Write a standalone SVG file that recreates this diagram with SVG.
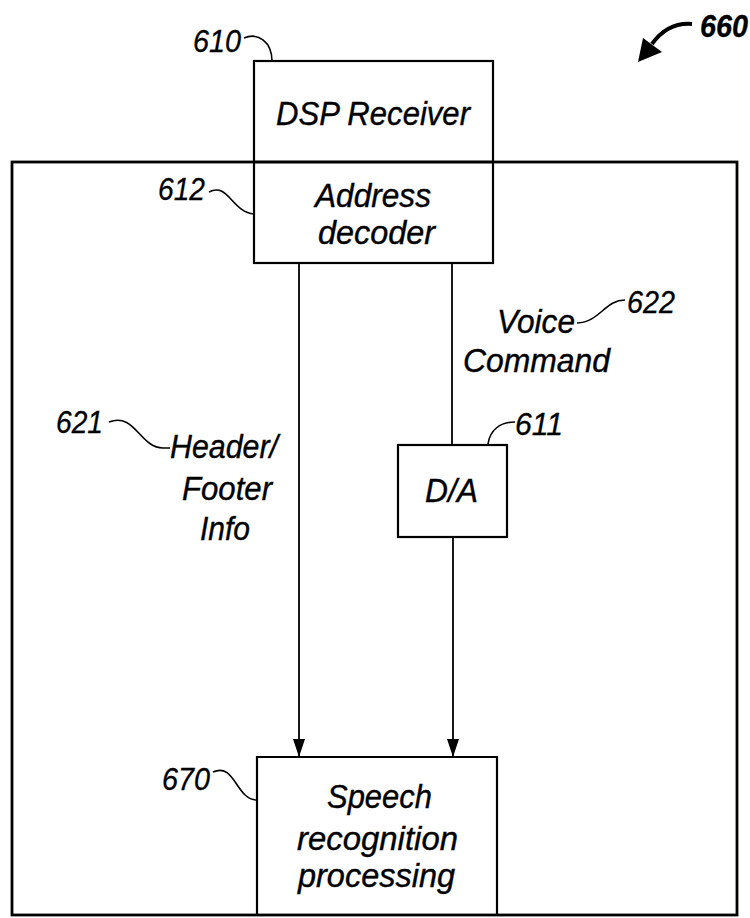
<svg xmlns="http://www.w3.org/2000/svg" width="750" height="918" viewBox="0 0 750 918">
<style>
.box{fill:none;stroke:#000;stroke-width:2.2}
.frame{fill:none;stroke:#000;stroke-width:2.8}
.ln{fill:none;stroke:#000;stroke-width:1.8}
.ld{fill:none;stroke:#000;stroke-width:1.6}
.t{font-family:"Liberation Sans",Arial,sans-serif;font-style:italic;font-size:34px;fill:#000;stroke:#000;stroke-width:0.4}
.n{font-family:"Liberation Sans",Arial,sans-serif;font-style:italic;font-size:31px;fill:#000;stroke:#000;stroke-width:0.3}
</style>
<defs>
<marker id="ah" markerWidth="18" markerHeight="12" refX="18" refY="6" orient="auto" markerUnits="userSpaceOnUse" viewBox="0 0 18 12">
<path d="M0,0 L18,6 L0,12 Z" fill="#000"/>
</marker>
</defs>
<g id="system-660">
<rect class="frame" x="12" y="162" width="725" height="753"/>
<text class="n" x="700" y="37" font-weight="bold" textLength="48" lengthAdjust="spacingAndGlyphs">660</text>
<path d="M692,24 Q668,22 652,44" fill="none" stroke="#000" stroke-width="4"/>
<polygon points="638,62 643,38 662,52" fill="#000"/>
</g>
<g id="node-610">
<rect class="box" x="254" y="61" width="239" height="101"/>
<text class="t" x="276" y="125" textLength="194" lengthAdjust="spacingAndGlyphs">DSP Receiver</text>
<text class="n" x="193" y="52" textLength="48" lengthAdjust="spacingAndGlyphs">610</text>
<path class="ld" d="M244,38 C258,32 272,42 272,61"/>
</g>
<g id="node-612">
<rect class="box" x="254" y="162" width="239" height="101"/>
<text class="t" x="315" y="207" textLength="116" lengthAdjust="spacingAndGlyphs">Address</text>
<text class="t" x="318" y="244" textLength="117" lengthAdjust="spacingAndGlyphs">decoder</text>
<text class="n" x="158" y="200" textLength="47" lengthAdjust="spacingAndGlyphs">612</text>
<path class="ld" d="M209,192 C228,182 232,212 254,214"/>
</g>
<g id="node-611">
<rect class="box" x="398" y="445" width="109" height="92"/>
<text class="t" x="425" y="502" textLength="53" lengthAdjust="spacingAndGlyphs">D/A</text>
<text class="n" x="515" y="435" textLength="48" lengthAdjust="spacingAndGlyphs">611</text>
<path class="ld" d="M488,444 C490,430 500,422 515,422"/>
</g>
<g id="node-670">
<path class="box" d="M257,915 L257,757 L497,757 L497,915"/>
<text class="t" x="327" y="808" textLength="105" lengthAdjust="spacingAndGlyphs">Speech</text>
<text class="t" x="297" y="850" textLength="161" lengthAdjust="spacingAndGlyphs">recognition</text>
<text class="t" x="298" y="887" textLength="157" lengthAdjust="spacingAndGlyphs">processing</text>
<text class="n" x="162" y="790" textLength="48" lengthAdjust="spacingAndGlyphs">670</text>
<path class="ld" d="M213,772 C235,762 236,800 257,800"/>
</g>
<g id="connectors">
<line class="ln" x1="299" y1="263" x2="299" y2="757" marker-end="url(#ah)"/>
<line class="ln" x1="452" y1="263" x2="452" y2="445"/>
<line class="ln" x1="453" y1="537" x2="453" y2="757" marker-end="url(#ah)"/>
</g>
<g id="labels">
<text class="t" x="497" y="333" textLength="78" lengthAdjust="spacingAndGlyphs">Voice</text>
<text class="t" x="463" y="372" textLength="147" lengthAdjust="spacingAndGlyphs">Command</text>
<text class="n" x="627" y="313" textLength="48" lengthAdjust="spacingAndGlyphs">622</text>
<path class="ld" d="M577,323 C600,322 605,300 625,300"/>
<text class="n" x="56" y="433" textLength="47" lengthAdjust="spacingAndGlyphs">621</text>
<path class="ld" d="M109,422 C135,412 140,448 163,448 L170,448"/>
<text class="t" x="170" y="458" textLength="108" lengthAdjust="spacingAndGlyphs">Header/</text>
<text class="t" x="182" y="500" textLength="90" lengthAdjust="spacingAndGlyphs">Footer</text>
<text class="t" x="200" y="540" textLength="50" lengthAdjust="spacingAndGlyphs">Info</text>
</g>
</svg>
